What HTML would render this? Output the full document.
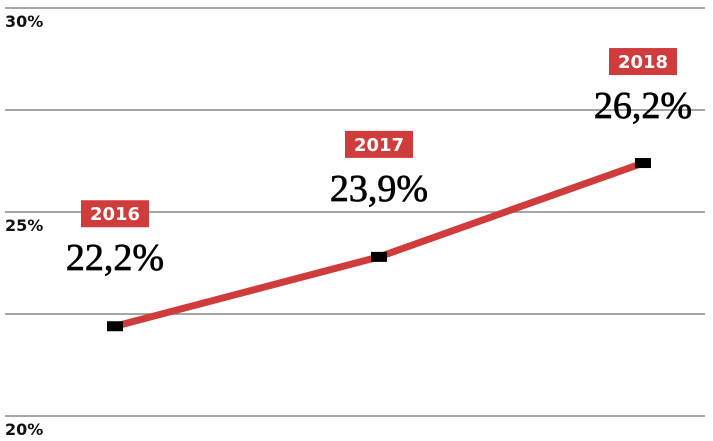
<!DOCTYPE html>
<html><head><meta charset="utf-8"><style>
body{margin:0;background:#fff;width:713px;height:441px;overflow:hidden}
svg{display:block}
.ax{font-family:"DejaVu Sans","Liberation Sans",sans-serif;font-weight:bold;font-size:16px;fill:#111}
.yr{font-family:"DejaVu Sans","Liberation Sans",sans-serif;font-weight:bold;font-size:18px;fill:#fff}
.val{font-family:"Liberation Serif",serif;font-size:38px;fill:#000;stroke:#000;stroke-width:0.7}
</style></head><body>
<svg id="chart" width="713" height="441" xmlns="http://www.w3.org/2000/svg"></svg>
<script>
const years = ["2016","2017","2018"];
const values = [22.2, 23.9, 26.2];
const valueLabels = ["22,2%","23,9%","26,2%"];
const gridTicks = [30, 27.5, 25, 22.5, 20];
const tickLabels = {30:"30%",25:"25%",20:"20%"};
const NS="http://www.w3.org/2000/svg";
const svg=document.getElementById('chart');
const y=v=>212-(v-25)*40.8;
const x=i=>115+i*264;
function mk(t,a,p){const e=document.createElementNS(NS,t);for(const k in a)e.setAttribute(k,a[k]);(p||svg).appendChild(e);return e;}
gridTicks.forEach(t=>{
 const l=mk('line',{x1:5,x2:705,y1:y(t),y2:y(t),stroke:'#888','stroke-width':1.5});
 
 
 if(tickLabels[t]){const tx=mk('text',{x:5,y:y(t)+19,class:'ax'});tx.textContent=tickLabels[t];
 
 }
});
const pl=mk('polyline',{points:values.map((v,i)=>x(i)+','+y(v)).join(' '),fill:'none',stroke:'#d03b3b','stroke-width':7});


values.forEach((v,i)=>{
 const cx=x(i),cy=y(v);
 const off=(i===values.length-1)?11:0;
 const m=mk('rect',{x:cx-8,y:cy-5,width:16,height:10,fill:'#000'});
 
 
 const b=mk('rect',{x:cx-34,y:cy-126+off,width:68,height:27,fill:'#d03b3b'});
 
 
 const t=mk('text',{x:cx,y:cy-106+off,class:'yr','text-anchor':'middle'});t.textContent=years[i];
 
 
 const vt=mk('text',{x:cx,y:cy-56+off,class:'val','text-anchor':'middle'});vt.textContent=valueLabels[i];
 
 
});
</script>
</body></html>
